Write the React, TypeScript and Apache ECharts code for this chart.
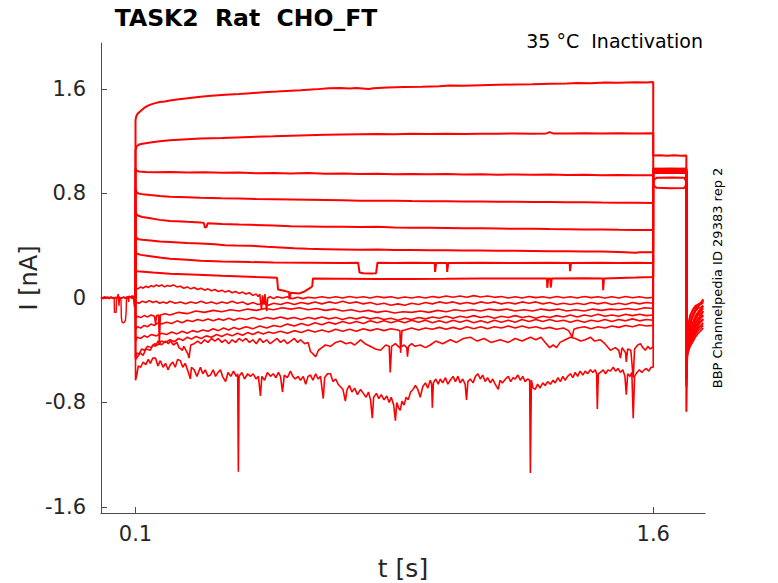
import React, { useEffect, useRef } from "react";
import * as echarts from "echarts";

// ---------- axes ----------
const X_TICKS = [0.1, 1.6];
const Y_TICKS = [-1.6, -0.8, 0, 0.8, 1.6];
const X_MIN = 0;
const X_MAX = 1.75;
const Y_MIN = -1.646;
const Y_MAX = 1.952;

// ---------- texts ----------
const TITLE = "TASK2  Rat  CHO_FT";
const SUBTITLE = "35 °C  Inactivation";
const SIDE_NOTE = "BBP Channelpedia ID 29383 rep 2";
const X_NAME = "t [s]";
const Y_NAME = "I [nA]";

// ---------- holding period (t < 0.1 s) ----------
const PRE_A = [[0,0.01],[0.005,-0.005],[0.01,0.01],[0.015,0.0],[0.02,0.008],[0.025,-0.003],[0.03,0.006],[0.035,0.0],[0.038,0.005],[0.039,-0.11],[0.044,-0.11],[0.045,0.0],[0.05,0.01],[0.055,-0.005],[0.06,0.0],[0.065,0.008],[0.07,-0.004],[0.075,0.005],[0.08,0.0],[0.085,0.01],[0.09,-0.005],[0.095,0.008],[0.1,0.0]];
const PRE_B = [[0,-0.008],[0.006,0.006],[0.012,-0.004],[0.018,0.008],[0.024,-0.006],[0.03,0.004],[0.036,-0.005],[0.042,0.006],[0.048,-0.003],[0.052,0.01],[0.056,0.0],[0.058,-0.02],[0.059,-0.15],[0.061,-0.185],[0.064,-0.19],[0.068,-0.185],[0.071,-0.17],[0.073,-0.1],[0.074,0.01],[0.078,0.0],[0.082,0.015],[0.086,0.005],[0.09,0.018],[0.094,0.008],[0.098,0.02],[0.1,0.012]];
const PRE_C = [[0,0.004],[0.007,-0.006],[0.014,0.007],[0.021,-0.003],[0.028,0.008],[0.035,-0.004],[0.04,0.006],[0.046,-0.005],[0.05,0.03],[0.052,-0.06],[0.054,0.005],[0.06,-0.004],[0.066,0.008],[0.072,-0.003],[0.078,0.012],[0.08,-0.03],[0.082,0.01],[0.088,0.0],[0.093,0.015],[0.097,-0.07],[0.099,0.01],[0.1,0.005]];

// ---------- conditioning pulse (0.1 .. 1.6 s) ----------
const TRACE_01 = [[0.1,0],[0.1,1.36],[0.102,1.39],[0.106,1.41],[0.114,1.43],[0.125,1.455],[0.135,1.47],[0.143,1.48],[0.155,1.49],[0.17,1.5],[0.185,1.505],[0.2,1.512],[0.22,1.52],[0.245,1.528],[0.27,1.535],[0.288,1.54],[0.32,1.548],[0.36,1.556],[0.4,1.562],[0.433,1.568],[0.47,1.575],[0.51,1.58],[0.55,1.586],[0.578,1.59],[0.62,1.597],[0.66,1.605],[0.694,1.608],[0.72,1.604],[0.74,1.608],[0.775,1.6],[0.79,1.606],[0.83,1.612],[0.88,1.615],[0.93,1.617],[0.98,1.62],[1.01,1.626],[1.05,1.624],[1.1,1.628],[1.15,1.632],[1.2,1.634],[1.25,1.636],[1.3,1.64],[1.35,1.642],[1.38,1.646],[1.42,1.644],[1.46,1.65],[1.5,1.648],[1.55,1.652],[1.58,1.65],[1.6,1.654]];
const TRACE_02 = [[0.1,0],[0.1,1.13],[0.103,1.16],[0.11,1.175],[0.12,1.18],[0.143,1.19],[0.17,1.2],[0.2,1.208],[0.25,1.215],[0.288,1.22],[0.35,1.225],[0.433,1.233],[0.5,1.238],[0.55,1.242],[0.6,1.246],[0.65,1.25],[0.7,1.252],[0.75,1.254],[0.8,1.255],[0.85,1.254],[0.9,1.257],[0.95,1.255],[1.0,1.258],[1.05,1.256],[1.1,1.258],[1.15,1.257],[1.2,1.26],[1.25,1.258],[1.29,1.26],[1.3,1.27],[1.31,1.26],[1.35,1.259],[1.4,1.261],[1.45,1.26],[1.5,1.262],[1.55,1.26],[1.6,1.262]];
const TRACE_03 = [[0.1,0],[0.1,0.99],[0.103,0.975],[0.11,0.968],[0.13,0.965],[0.16,0.962],[0.2,0.964],[0.25,0.96],[0.3,0.962],[0.35,0.958],[0.4,0.96],[0.45,0.955],[0.5,0.957],[0.55,0.953],[0.6,0.956],[0.65,0.951],[0.7,0.953],[0.75,0.95],[0.8,0.952],[0.85,0.948],[0.9,0.95],[0.95,0.947],[1.0,0.949],[1.05,0.945],[1.1,0.948],[1.15,0.944],[1.2,0.946],[1.25,0.943],[1.3,0.945],[1.35,0.942],[1.4,0.944],[1.45,0.94],[1.5,0.942],[1.55,0.939],[1.6,0.94]];
const TRACE_04 = [[0.1,0],[0.1,0.84],[0.102,0.815],[0.108,0.8],[0.12,0.795],[0.143,0.788],[0.17,0.78],[0.2,0.775],[0.25,0.772],[0.288,0.768],[0.35,0.764],[0.4,0.762],[0.45,0.758],[0.5,0.756],[0.55,0.754],[0.6,0.752],[0.65,0.75],[0.7,0.748],[0.75,0.745],[0.8,0.744],[0.85,0.745],[0.9,0.742],[0.95,0.741],[1.0,0.74],[1.05,0.739],[1.1,0.738],[1.15,0.737],[1.2,0.736],[1.25,0.735],[1.3,0.734],[1.35,0.733],[1.4,0.733],[1.45,0.731],[1.5,0.73],[1.55,0.729],[1.6,0.727]];
const TRACE_05 = [[0.1,0],[0.1,0.67],[0.102,0.645],[0.108,0.63],[0.12,0.62],[0.143,0.61],[0.17,0.598],[0.2,0.59],[0.25,0.583],[0.288,0.578],[0.298,0.575],[0.301,0.54],[0.306,0.545],[0.309,0.572],[0.35,0.567],[0.4,0.562],[0.433,0.56],[0.5,0.555],[0.55,0.55],[0.6,0.548],[0.65,0.545],[0.7,0.545],[0.75,0.543],[0.8,0.545],[0.85,0.54],[0.9,0.538],[0.95,0.537],[1.0,0.536],[1.05,0.534],[1.1,0.533],[1.15,0.532],[1.2,0.53],[1.25,0.53],[1.3,0.528],[1.35,0.527],[1.4,0.525],[1.45,0.524],[1.5,0.522],[1.55,0.521],[1.6,0.52]];
const TRACE_06 = [[0.1,0],[0.1,0.49],[0.102,0.465],[0.108,0.45],[0.12,0.445],[0.143,0.44],[0.17,0.432],[0.2,0.428],[0.25,0.42],[0.288,0.418],[0.33,0.412],[0.36,0.404],[0.39,0.402],[0.433,0.4],[0.48,0.392],[0.52,0.386],[0.56,0.38],[0.6,0.376],[0.65,0.374],[0.7,0.372],[0.75,0.37],[0.8,0.372],[0.85,0.368],[0.9,0.367],[0.95,0.366],[1.0,0.365],[1.05,0.364],[1.1,0.363],[1.15,0.362],[1.2,0.361],[1.25,0.36],[1.3,0.358],[1.35,0.357],[1.4,0.356],[1.45,0.355],[1.5,0.352],[1.55,0.346],[1.56,0.35],[1.6,0.35]];
const TRACE_07 = [[0.1,0],[0.1,0.36],[0.103,0.34],[0.115,0.33],[0.143,0.32],[0.17,0.31],[0.2,0.3],[0.25,0.292],[0.288,0.285],[0.35,0.28],[0.433,0.275],[0.5,0.272],[0.6,0.27],[0.7,0.268],[0.745,0.27],[0.749,0.195],[0.76,0.19],[0.78,0.188],[0.797,0.19],[0.801,0.27],[0.85,0.268],[0.9,0.27],[0.967,0.268],[0.968,0.2],[0.971,0.268],[1.002,0.268],[1.003,0.2],[1.006,0.268],[1.1,0.27],[1.2,0.268],[1.3,0.27],[1.358,0.268],[1.359,0.205],[1.362,0.268],[1.45,0.27],[1.5,0.268],[1.55,0.27],[1.6,0.268]];
const TRACE_08 = [[0.1,0],[0.1,0.22],[0.104,0.205],[0.15,0.195],[0.2,0.185],[0.28,0.178],[0.35,0.17],[0.45,0.16],[0.51,0.155],[0.513,0.065],[0.53,0.055],[0.545,0.045],[0.546,-0.01],[0.549,0.04],[0.575,0.035],[0.59,0.05],[0.605,0.075],[0.612,0.09],[0.614,0.15],[0.7,0.148],[0.8,0.146],[0.9,0.145],[1.0,0.147],[1.1,0.15],[1.2,0.149],[1.292,0.15],[1.293,0.078],[1.296,0.15],[1.302,0.15],[1.303,0.08],[1.306,0.15],[1.4,0.152],[1.454,0.15],[1.455,0.06],[1.457,0.15],[1.55,0.156],[1.6,0.16]];
const TRACE_09 = [[0.1,0],[0.1,0.08],[0.107,0.07],[0.115,0.085],[0.122,0.075],[0.13,0.09],[0.137,0.08],[0.145,0.095],[0.152,0.085],[0.16,0.1],[0.168,0.09],[0.176,0.1],[0.184,0.085],[0.192,0.095],[0.2,0.09],[0.21,0.1],[0.22,0.085],[0.23,0.09],[0.24,0.075],[0.25,0.085],[0.26,0.07],[0.27,0.08],[0.28,0.065],[0.29,0.075],[0.3,0.06],[0.31,0.07],[0.32,0.055],[0.33,0.065],[0.34,0.05],[0.35,0.06],[0.36,0.045],[0.37,0.055],[0.38,0.04],[0.39,0.05],[0.4,0.035],[0.41,0.045],[0.42,0.03],[0.43,0.04],[0.44,0.02],[0.45,0.03],[0.455,0.01],[0.46,0.03],[0.465,-0.09],[0.468,0.02],[0.472,-0.05],[0.475,0.03],[0.48,-0.1],[0.483,0.0],[0.49,0.01],[0.5,-0.005],[0.51,0.01],[0.525,0.0],[0.54,0.01],[0.555,-0.005],[0.57,0.005],[0.585,-0.005],[0.6,0.005],[0.62,0.0],[0.64,0.01],[0.66,0.0],[0.68,0.01],[0.7,0.0],[0.72,0.012],[0.74,0.002],[0.76,0.01],[0.78,0.0],[0.8,0.012],[0.82,0.003],[0.84,0.01],[0.86,-0.002],[0.88,0.008],[0.9,0.0],[0.92,0.01],[0.94,0.0],[0.96,0.012],[0.98,0.003],[1.0,0.015],[1.02,0.005],[1.04,0.015],[1.06,0.005],[1.08,0.018],[1.1,0.008],[1.12,0.015],[1.14,0.005],[1.16,0.012],[1.18,0.0],[1.2,0.01],[1.22,0.0],[1.24,0.012],[1.26,0.003],[1.28,0.01],[1.3,0.0],[1.32,0.012],[1.34,0.002],[1.36,0.01],[1.38,0.0],[1.4,0.012],[1.42,0.003],[1.44,0.01],[1.46,0.0],[1.48,0.01],[1.5,0.0],[1.52,0.012],[1.54,0.002],[1.56,0.01],[1.58,0.0],[1.6,0.005]];
const TRACE_10 = [[0.1,0],[0.1,-0.03],[0.11,-0.04],[0.12,-0.025],[0.13,-0.035],[0.14,-0.02],[0.15,-0.035],[0.16,-0.025],[0.17,-0.04],[0.18,-0.03],[0.19,-0.04],[0.2,-0.025],[0.215,-0.04],[0.23,-0.03],[0.245,-0.045],[0.26,-0.03],[0.275,-0.04],[0.29,-0.025],[0.305,-0.04],[0.32,-0.03],[0.335,-0.045],[0.35,-0.03],[0.365,-0.04],[0.38,-0.025],[0.395,-0.04],[0.41,-0.03],[0.425,-0.05],[0.44,-0.035],[0.455,-0.05],[0.47,-0.04],[0.485,-0.055],[0.5,-0.04],[0.52,-0.05],[0.54,-0.035],[0.56,-0.05],[0.58,-0.035],[0.6,-0.045],[0.62,-0.03],[0.64,-0.045],[0.66,-0.03],[0.68,-0.04],[0.7,-0.025],[0.72,-0.04],[0.74,-0.03],[0.76,-0.045],[0.78,-0.035],[0.8,-0.05],[0.82,-0.04],[0.84,-0.055],[0.86,-0.045],[0.88,-0.055],[0.9,-0.04],[0.92,-0.05],[0.94,-0.035],[0.96,-0.045],[0.98,-0.03],[1.0,-0.04],[1.02,-0.03],[1.04,-0.045],[1.06,-0.035],[1.08,-0.045],[1.1,-0.03],[1.12,-0.04],[1.14,-0.03],[1.16,-0.045],[1.18,-0.035],[1.2,-0.045],[1.22,-0.03],[1.24,-0.04],[1.26,-0.03],[1.28,-0.045],[1.3,-0.035],[1.32,-0.05],[1.34,-0.04],[1.36,-0.05],[1.38,-0.04],[1.4,-0.05],[1.42,-0.035],[1.44,-0.045],[1.46,-0.035],[1.48,-0.05],[1.5,-0.04],[1.52,-0.05],[1.54,-0.035],[1.56,-0.045],[1.58,-0.035],[1.6,-0.04]];
const TRACE_11 = [[0.1,0],[0.1,-0.16],[0.105,-0.14],[0.115,-0.15],[0.125,-0.135],[0.135,-0.145],[0.145,-0.13],[0.155,-0.14],[0.158,-0.2],[0.161,-0.135],[0.167,-0.13],[0.169,-0.36],[0.172,-0.13],[0.185,-0.12],[0.2,-0.13],[0.225,-0.11],[0.25,-0.12],[0.275,-0.1],[0.3,-0.11],[0.325,-0.095],[0.35,-0.105],[0.375,-0.09],[0.4,-0.1],[0.425,-0.085],[0.45,-0.095],[0.475,-0.08],[0.5,-0.09],[0.525,-0.075],[0.55,-0.085],[0.575,-0.075],[0.6,-0.09],[0.625,-0.08],[0.65,-0.095],[0.675,-0.085],[0.7,-0.1],[0.725,-0.09],[0.75,-0.105],[0.775,-0.095],[0.8,-0.11],[0.825,-0.1],[0.85,-0.115],[0.875,-0.105],[0.9,-0.11],[0.925,-0.1],[0.95,-0.11],[0.975,-0.095],[1.0,-0.105],[1.025,-0.09],[1.05,-0.1],[1.075,-0.09],[1.1,-0.1],[1.125,-0.085],[1.15,-0.095],[1.175,-0.085],[1.2,-0.1],[1.225,-0.09],[1.25,-0.1],[1.275,-0.085],[1.3,-0.095],[1.325,-0.085],[1.35,-0.1],[1.375,-0.09],[1.4,-0.1],[1.425,-0.085],[1.45,-0.095],[1.475,-0.085],[1.5,-0.09],[1.525,-0.08],[1.55,-0.09],[1.575,-0.075],[1.6,-0.08]];
const TRACE_12 = [[0.1,0],[0.1,-0.24],[0.105,-0.22],[0.115,-0.23],[0.125,-0.21],[0.135,-0.22],[0.145,-0.2],[0.155,-0.21],[0.165,-0.19],[0.175,-0.2],[0.19,-0.185],[0.205,-0.195],[0.22,-0.175],[0.235,-0.19],[0.25,-0.17],[0.265,-0.18],[0.28,-0.165],[0.295,-0.175],[0.31,-0.16],[0.325,-0.175],[0.34,-0.16],[0.355,-0.17],[0.37,-0.155],[0.385,-0.17],[0.4,-0.155],[0.42,-0.165],[0.44,-0.15],[0.46,-0.165],[0.48,-0.15],[0.5,-0.16],[0.52,-0.145],[0.54,-0.16],[0.56,-0.15],[0.58,-0.165],[0.6,-0.15],[0.62,-0.16],[0.64,-0.145],[0.66,-0.16],[0.68,-0.15],[0.7,-0.165],[0.72,-0.15],[0.74,-0.16],[0.76,-0.145],[0.78,-0.16],[0.8,-0.15],[0.82,-0.165],[0.84,-0.155],[0.86,-0.17],[0.88,-0.155],[0.9,-0.165],[0.92,-0.15],[0.94,-0.16],[0.96,-0.145],[0.98,-0.155],[1.0,-0.14],[1.02,-0.155],[1.04,-0.14],[1.06,-0.15],[1.08,-0.135],[1.1,-0.15],[1.12,-0.14],[1.14,-0.155],[1.16,-0.14],[1.18,-0.15],[1.2,-0.135],[1.22,-0.15],[1.24,-0.14],[1.26,-0.155],[1.28,-0.14],[1.3,-0.15],[1.32,-0.135],[1.34,-0.145],[1.36,-0.13],[1.38,-0.145],[1.4,-0.13],[1.42,-0.14],[1.44,-0.125],[1.46,-0.14],[1.48,-0.13],[1.5,-0.14],[1.52,-0.125],[1.54,-0.135],[1.56,-0.125],[1.58,-0.135],[1.6,-0.13]];
const TRACE_13 = [[0.1,0],[0.1,-0.33],[0.105,-0.3],[0.115,-0.31],[0.125,-0.29],[0.135,-0.3],[0.145,-0.28],[0.16,-0.29],[0.175,-0.27],[0.19,-0.28],[0.205,-0.26],[0.22,-0.275],[0.235,-0.255],[0.25,-0.27],[0.265,-0.25],[0.28,-0.26],[0.295,-0.245],[0.31,-0.255],[0.325,-0.235],[0.34,-0.25],[0.355,-0.23],[0.37,-0.245],[0.385,-0.225],[0.4,-0.24],[0.42,-0.22],[0.44,-0.235],[0.46,-0.215],[0.48,-0.23],[0.5,-0.21],[0.52,-0.22],[0.54,-0.2],[0.56,-0.215],[0.58,-0.195],[0.6,-0.21],[0.62,-0.19],[0.64,-0.205],[0.66,-0.185],[0.68,-0.2],[0.7,-0.18],[0.72,-0.195],[0.74,-0.18],[0.76,-0.195],[0.78,-0.175],[0.8,-0.19],[0.82,-0.175],[0.84,-0.19],[0.86,-0.175],[0.88,-0.19],[0.9,-0.17],[0.92,-0.185],[0.94,-0.17],[0.96,-0.19],[0.98,-0.175],[1.0,-0.19],[1.02,-0.17],[1.04,-0.185],[1.06,-0.17],[1.08,-0.19],[1.1,-0.175],[1.12,-0.19],[1.14,-0.17],[1.16,-0.185],[1.18,-0.17],[1.2,-0.185],[1.22,-0.165],[1.24,-0.18],[1.26,-0.165],[1.28,-0.18],[1.3,-0.165],[1.32,-0.18],[1.34,-0.17],[1.36,-0.185],[1.38,-0.17],[1.4,-0.185],[1.42,-0.17],[1.44,-0.18],[1.46,-0.165],[1.48,-0.18],[1.5,-0.165],[1.52,-0.175],[1.54,-0.16],[1.56,-0.175],[1.58,-0.165],[1.6,-0.17]];
const TRACE_14 = [[0.1,0],[0.1,-0.46],[0.104,-0.42],[0.11,-0.43],[0.118,-0.39],[0.126,-0.4],[0.135,-0.37],[0.145,-0.38],[0.155,-0.35],[0.165,-0.36],[0.175,-0.33],[0.187,-0.34],[0.2,-0.32],[0.212,-0.335],[0.225,-0.31],[0.238,-0.325],[0.25,-0.3],[0.262,-0.315],[0.275,-0.295],[0.29,-0.31],[0.305,-0.29],[0.32,-0.3],[0.335,-0.28],[0.35,-0.295],[0.365,-0.275],[0.38,-0.29],[0.395,-0.27],[0.41,-0.285],[0.425,-0.265],[0.44,-0.28],[0.455,-0.26],[0.47,-0.275],[0.485,-0.26],[0.5,-0.27],[0.52,-0.255],[0.54,-0.27],[0.56,-0.25],[0.58,-0.265],[0.6,-0.245],[0.62,-0.26],[0.64,-0.245],[0.66,-0.26],[0.68,-0.24],[0.7,-0.255],[0.72,-0.24],[0.74,-0.255],[0.76,-0.235],[0.78,-0.25],[0.8,-0.235],[0.82,-0.25],[0.84,-0.235],[0.86,-0.245],[0.866,-0.25],[0.868,-0.42],[0.872,-0.25],[0.88,-0.245],[0.9,-0.23],[0.92,-0.245],[0.94,-0.23],[0.96,-0.24],[0.98,-0.225],[1.0,-0.24],[1.02,-0.225],[1.04,-0.24],[1.06,-0.22],[1.08,-0.235],[1.1,-0.22],[1.12,-0.235],[1.14,-0.22],[1.16,-0.23],[1.18,-0.215],[1.2,-0.23],[1.22,-0.215],[1.24,-0.23],[1.26,-0.22],[1.28,-0.235],[1.3,-0.225],[1.32,-0.24],[1.34,-0.23],[1.355,-0.25],[1.365,-0.3],[1.37,-0.24],[1.38,-0.23],[1.4,-0.22],[1.42,-0.235],[1.44,-0.22],[1.46,-0.23],[1.48,-0.215],[1.5,-0.225],[1.52,-0.21],[1.54,-0.22],[1.56,-0.205],[1.58,-0.215],[1.6,-0.21]];
const TRACE_15 = [[0.1,0],[0.1,-0.47],[0.106,-0.45],[0.114,-0.42],[0.122,-0.44],[0.13,-0.39],[0.143,-0.4],[0.15,-0.36],[0.158,-0.37],[0.165,-0.33],[0.175,-0.36],[0.187,-0.33],[0.195,-0.35],[0.201,-0.33],[0.21,-0.36],[0.22,-0.34],[0.226,-0.38],[0.236,-0.4],[0.24,-0.37],[0.252,-0.43],[0.255,-0.46],[0.26,-0.36],[0.27,-0.35],[0.28,-0.33],[0.29,-0.35],[0.3,-0.32],[0.31,-0.34],[0.32,-0.31],[0.33,-0.33],[0.34,-0.31],[0.35,-0.34],[0.36,-0.32],[0.37,-0.35],[0.38,-0.32],[0.39,-0.34],[0.4,-0.31],[0.41,-0.33],[0.42,-0.31],[0.43,-0.34],[0.44,-0.32],[0.45,-0.35],[0.46,-0.31],[0.47,-0.34],[0.48,-0.32],[0.49,-0.35],[0.5,-0.33],[0.51,-0.31],[0.52,-0.34],[0.53,-0.32],[0.54,-0.35],[0.55,-0.33],[0.56,-0.31],[0.57,-0.34],[0.578,-0.32],[0.59,-0.35],[0.6,-0.34],[0.607,-0.41],[0.615,-0.43],[0.622,-0.45],[0.63,-0.4],[0.64,-0.38],[0.65,-0.36],[0.665,-0.37],[0.68,-0.34],[0.694,-0.33],[0.71,-0.35],[0.723,-0.34],[0.735,-0.36],[0.752,-0.32],[0.765,-0.35],[0.78,-0.37],[0.795,-0.39],[0.81,-0.4],[0.825,-0.36],[0.835,-0.37],[0.838,-0.57],[0.842,-0.37],[0.853,-0.35],[0.865,-0.38],[0.878,-0.36],[0.886,-0.38],[0.888,-0.45],[0.891,-0.37],[0.9,-0.35],[0.91,-0.37],[0.925,-0.36],[0.94,-0.38],[0.954,-0.36],[0.97,-0.33],[0.99,-0.35],[1.012,-0.32],[1.03,-0.34],[1.05,-0.31],[1.07,-0.3],[1.09,-0.33],[1.11,-0.31],[1.13,-0.34],[1.157,-0.32],[1.18,-0.34],[1.2,-0.31],[1.22,-0.33],[1.244,-0.3],[1.26,-0.32],[1.275,-0.3],[1.287,-0.34],[1.3,-0.38],[1.31,-0.36],[1.32,-0.38],[1.33,-0.34],[1.345,-0.32],[1.36,-0.3],[1.374,-0.31],[1.39,-0.33],[1.403,-0.32],[1.418,-0.3],[1.43,-0.33],[1.447,-0.32],[1.46,-0.35],[1.476,-0.4],[1.49,-0.38],[1.5,-0.4],[1.505,-0.46],[1.51,-0.38],[1.52,-0.42],[1.522,-0.49],[1.526,-0.39],[1.535,-0.4],[1.542,-0.61],[1.546,-0.39],[1.555,-0.36],[1.563,-0.35],[1.57,-0.38],[1.577,-0.4],[1.585,-0.37],[1.59,-0.39],[1.6,-0.375]];
const TRACE_16 = [[0.1,0],[0.1,-0.63],[0.103,-0.6],[0.108,-0.52],[0.115,-0.53],[0.122,-0.49],[0.13,-0.51],[0.137,-0.47],[0.143,-0.5],[0.15,-0.46],[0.158,-0.46],[0.165,-0.52],[0.172,-0.48],[0.18,-0.53],[0.187,-0.5],[0.194,-0.55],[0.201,-0.51],[0.208,-0.49],[0.215,-0.53],[0.222,-0.47],[0.23,-0.48],[0.237,-0.53],[0.244,-0.5],[0.252,-0.56],[0.259,-0.62],[0.262,-0.53],[0.27,-0.55],[0.278,-0.6],[0.288,-0.53],[0.295,-0.58],[0.302,-0.55],[0.31,-0.6],[0.317,-0.59],[0.325,-0.55],[0.332,-0.6],[0.339,-0.57],[0.346,-0.55],[0.352,-0.6],[0.361,-0.64],[0.368,-0.57],[0.376,-0.6],[0.384,-0.56],[0.392,-0.6],[0.396,-0.58],[0.398,-1.33],[0.4,-0.6],[0.408,-0.57],[0.416,-0.62],[0.425,-0.58],[0.433,-0.6],[0.441,-0.58],[0.449,-0.62],[0.456,-0.6],[0.462,-0.75],[0.466,-0.6],[0.474,-0.63],[0.482,-0.57],[0.491,-0.6],[0.499,-0.58],[0.507,-0.61],[0.514,-0.57],[0.52,-0.6],[0.526,-0.72],[0.531,-0.59],[0.54,-0.61],[0.549,-0.56],[0.556,-0.6],[0.563,-0.62],[0.571,-0.6],[0.578,-0.63],[0.586,-0.6],[0.593,-0.66],[0.6,-0.6],[0.607,-0.59],[0.614,-0.63],[0.622,-0.58],[0.629,-0.62],[0.636,-0.6],[0.644,-0.77],[0.648,-0.61],[0.656,-0.58],[0.665,-0.58],[0.672,-0.64],[0.68,-0.62],[0.687,-0.66],[0.694,-0.68],[0.701,-0.7],[0.708,-0.79],[0.713,-0.7],[0.72,-0.67],[0.727,-0.72],[0.735,-0.69],[0.743,-0.74],[0.752,-0.7],[0.76,-0.73],[0.768,-0.76],[0.775,-0.72],[0.781,-0.78],[0.786,-0.92],[0.79,-0.76],[0.798,-0.73],[0.805,-0.77],[0.812,-0.74],[0.82,-0.78],[0.828,-0.75],[0.835,-0.8],[0.841,-0.76],[0.848,-0.82],[0.853,-0.94],[0.857,-0.8],[0.862,-0.84],[0.867,-0.86],[0.872,-0.79],[0.878,-0.82],[0.884,-0.76],[0.89,-0.78],[0.897,-0.72],[0.904,-0.7],[0.911,-0.67],[0.918,-0.7],[0.925,-0.76],[0.932,-0.68],[0.94,-0.65],[0.947,-0.69],[0.954,-0.63],[0.958,-0.66],[0.96,-0.84],[0.963,-0.65],[0.97,-0.62],[0.977,-0.66],[0.983,-0.62],[0.99,-0.65],[0.998,-0.61],[1.005,-0.66],[1.012,-0.63],[1.02,-0.6],[1.027,-0.64],[1.034,-0.6],[1.041,-0.65],[1.048,-0.62],[1.055,-0.66],[1.059,-0.78],[1.063,-0.64],[1.07,-0.62],[1.078,-0.65],[1.085,-0.6],[1.092,-0.58],[1.099,-0.62],[1.106,-0.59],[1.113,-0.64],[1.12,-0.61],[1.128,-0.65],[1.135,-0.62],[1.142,-0.66],[1.151,-0.7],[1.156,-0.63],[1.163,-0.65],[1.172,-0.62],[1.18,-0.6],[1.187,-0.64],[1.194,-0.61],[1.2,-0.62],[1.208,-0.59],[1.215,-0.63],[1.222,-0.6],[1.229,-0.64],[1.236,-0.62],[1.242,-0.63],[1.244,-1.34],[1.247,-0.63],[1.252,-0.69],[1.258,-0.7],[1.265,-0.66],[1.272,-0.69],[1.28,-0.65],[1.287,-0.67],[1.294,-0.64],[1.302,-0.66],[1.31,-0.63],[1.316,-0.65],[1.324,-0.61],[1.331,-0.64],[1.338,-0.6],[1.345,-0.63],[1.352,-0.6],[1.36,-0.58],[1.367,-0.61],[1.374,-0.57],[1.381,-0.6],[1.388,-0.56],[1.396,-0.59],[1.403,-0.56],[1.41,-0.58],[1.418,-0.55],[1.425,-0.57],[1.432,-0.55],[1.436,-0.58],[1.438,-0.85],[1.441,-0.58],[1.447,-0.57],[1.455,-0.55],[1.462,-0.58],[1.469,-0.55],[1.476,-0.56],[1.484,-0.53],[1.491,-0.56],[1.498,-0.54],[1.505,-0.57],[1.512,-0.55],[1.518,-0.6],[1.522,-0.74],[1.526,-0.58],[1.533,-0.6],[1.538,-0.57],[1.542,-0.92],[1.546,-0.6],[1.553,-0.57],[1.56,-0.55],[1.567,-0.57],[1.574,-0.55],[1.58,-0.54],[1.587,-0.56],[1.594,-0.53],[1.6,-0.53]];

// ---------- test pulse (1.6 .. 1.696 s) and tail ----------
const POST_01 = [[1.6,1.09],[1.62,1.092],[1.64,1.088],[1.66,1.093],[1.68,1.089],[1.696,1.09],[1.696,-0.87],[1.698,-0.5],[1.7,-0.33],[1.704,-0.22],[1.71,-0.16],[1.716,-0.12],[1.724,-0.08],[1.732,-0.05],[1.74,-0.03],[1.745,-0.01]];
const POST_02 = [[1.6,0.88],[1.604,0.91],[1.61,0.92],[1.65,0.922],[1.69,0.92],[1.694,0.9],[1.696,0.88],[1.696,-0.68],[1.698,-0.42],[1.701,-0.3],[1.706,-0.22],[1.713,-0.15],[1.722,-0.1],[1.732,-0.06],[1.74,-0.04],[1.745,-0.02]];
const POST_03 = [[1.6,0.88],[1.604,0.855],[1.61,0.843],[1.65,0.84],[1.69,0.842],[1.694,0.86],[1.696,0.88],[1.696,-0.62],[1.698,-0.4],[1.701,-0.32],[1.706,-0.25],[1.713,-0.2],[1.722,-0.14],[1.732,-0.1],[1.74,-0.08],[1.745,-0.06]];
const POST_04 = [[1.6,0.99],[1.65,0.985],[1.696,0.99],[1.696,-0.6],[1.698,-0.38],[1.702,-0.3],[1.707,-0.26],[1.714,-0.2],[1.722,-0.17],[1.73,-0.12],[1.738,-0.1],[1.745,-0.08]];
const POST_05 = [[1.6,0.975],[1.65,0.97],[1.696,0.975],[1.696,-0.55],[1.698,-0.36],[1.702,-0.33],[1.707,-0.28],[1.714,-0.24],[1.722,-0.2],[1.73,-0.16],[1.738,-0.13],[1.745,-0.1]];
const POST_06 = [[1.6,0.985],[1.65,0.98],[1.696,0.985],[1.696,-0.5],[1.698,-0.4],[1.702,-0.35],[1.707,-0.3],[1.714,-0.27],[1.722,-0.22],[1.73,-0.19],[1.738,-0.15],[1.745,-0.13]];
const POST_07 = [[1.6,0.965],[1.65,0.962],[1.696,0.965],[1.696,-0.62],[1.698,-0.45],[1.702,-0.38],[1.707,-0.33],[1.714,-0.29],[1.722,-0.25],[1.73,-0.21],[1.738,-0.18],[1.745,-0.16]];
const POST_08 = [[1.6,0.97],[1.65,0.973],[1.696,0.97],[1.696,-0.58],[1.698,-0.42],[1.702,-0.37],[1.707,-0.34],[1.714,-0.3],[1.722,-0.27],[1.73,-0.23],[1.738,-0.21],[1.745,-0.19]];
const POST_09 = [[1.6,0.98],[1.65,0.978],[1.696,0.98],[1.696,-0.52],[1.698,-0.44],[1.702,-0.4],[1.707,-0.36],[1.714,-0.32],[1.722,-0.28],[1.73,-0.25],[1.738,-0.23],[1.745,-0.21]];
const POST_10 = [[1.6,0.96],[1.65,0.958],[1.696,0.96],[1.696,-0.48],[1.698,-0.43],[1.702,-0.41],[1.707,-0.37],[1.714,-0.34],[1.722,-0.3],[1.73,-0.27],[1.738,-0.25],[1.745,-0.23]];
const POST_11 = [[1.6,0.99],[1.65,0.992],[1.696,0.99],[1.696,-0.45],[1.698,-0.28],[1.702,-0.2],[1.707,-0.14],[1.714,-0.1],[1.722,-0.07],[1.73,-0.05],[1.738,-0.04],[1.745,-0.03]];
const POST_12 = [[1.6,0.975],[1.65,0.972],[1.696,0.975],[1.696,-0.66],[1.698,-0.4],[1.702,-0.27],[1.707,-0.19],[1.714,-0.14],[1.722,-0.1],[1.73,-0.08],[1.738,-0.07],[1.745,-0.06]];
const POST_13 = [[1.6,0.965],[1.65,0.968],[1.696,0.965],[1.696,-0.56],[1.698,-0.42],[1.702,-0.32],[1.707,-0.25],[1.714,-0.2],[1.722,-0.16],[1.73,-0.13],[1.738,-0.12],[1.745,-0.11]];
const POST_14 = [[1.6,0.98],[1.65,0.983],[1.696,0.98],[1.696,-0.5],[1.698,-0.38],[1.702,-0.31],[1.707,-0.27],[1.714,-0.22],[1.722,-0.19],[1.73,-0.16],[1.738,-0.15],[1.745,-0.14]];
const POST_15 = [[1.6,0.97],[1.65,0.968],[1.696,0.97],[1.696,-0.6],[1.698,-0.45],[1.702,-0.37],[1.707,-0.3],[1.714,-0.26],[1.722,-0.22],[1.73,-0.19],[1.738,-0.18],[1.745,-0.17]];
const POST_16 = [[1.6,0.955],[1.65,0.958],[1.696,0.955],[1.696,-0.54],[1.698,-0.3],[1.702,-0.2],[1.707,-0.13],[1.714,-0.09],[1.722,-0.06],[1.73,-0.05],[1.738,-0.045],[1.745,-0.04]];

const SMOOTH_TRACES = [TRACE_01, TRACE_02, TRACE_03, TRACE_04, TRACE_05, TRACE_06, TRACE_07, TRACE_08];
const NOISY_TRACES = [TRACE_09, TRACE_10, TRACE_11, TRACE_12, TRACE_13, TRACE_14, TRACE_15, TRACE_16];
const SMOOTH_POSTS = [POST_01, POST_02, POST_03, POST_04, POST_05, POST_06, POST_07, POST_08];
const NOISY_POSTS = [POST_09, POST_10, POST_11, POST_12, POST_13, POST_14, POST_15, POST_16];
const PRES = [PRE_A, PRE_B, PRE_C];

const RED = "#ff0000";
const AXIS_COLOR = "#4d4d4d";
const LABEL_COLOR = "#262626";
const FONT = "DejaVu Sans";

function lineSeries(data: number[][], width: number) {
  return {
    type: "line",
    data,
    symbol: "none",
    showSymbol: false,
    silent: true,
    animation: false,
    lineStyle: { color: RED, width },
    emphasis: { disabled: true },
  };
}

function fmt(v: number) {
  return String(Math.round(v * 10) / 10);
}

export default function App() {
  const ref = useRef<HTMLDivElement>(null);
  useEffect(() => {
    document.body.style.margin = "0";
    const chart = echarts.init(ref.current!, null, { renderer: "svg" });
    const series: any[] = [];
    PRES.forEach((p) => series.push(lineSeries(p, 1.4)));
    SMOOTH_TRACES.forEach((t, i) => series.push(lineSeries([...t, ...SMOOTH_POSTS[i]], 2)));
    NOISY_TRACES.forEach((t, i) => series.push(lineSeries([...t, ...NOISY_POSTS[i]], 1.6)));

    chart.setOption({
      animation: false,
      backgroundColor: "#ffffff",
      grid: { left: 101, right: 73, top: 43, bottom: 70, containLabel: false },
      xAxis: {
        type: "value",
        min: X_MIN,
        max: X_MAX,
        axisLine: { show: true, onZero: false, lineStyle: { color: AXIS_COLOR, width: 1 } },
        axisTick: { show: true, inside: true, length: 6, customValues: X_TICKS, lineStyle: { color: AXIS_COLOR } },
        axisLabel: { customValues: X_TICKS, formatter: fmt, color: LABEL_COLOR, fontSize: 21, fontFamily: FONT, margin: 10 },
        splitLine: { show: false },
      },
      yAxis: {
        type: "value",
        min: Y_MIN,
        max: Y_MAX,
        axisLine: { show: true, onZero: false, lineStyle: { color: AXIS_COLOR, width: 1 } },
        axisTick: { show: true, inside: true, length: 6, customValues: Y_TICKS, lineStyle: { color: AXIS_COLOR } },
        axisLabel: { customValues: Y_TICKS, formatter: fmt, color: LABEL_COLOR, fontSize: 21, fontFamily: FONT, margin: 15 },
        splitLine: { show: false },
      },
      graphic: [
        { type: "text", x: 246, y: 18, style: { text: TITLE, fill: "#000", fontSize: 23.5, fontWeight: "bold", fontFamily: FONT, align: "center", verticalAlign: "middle" } },
        { type: "text", x: 703, y: 41, style: { text: SUBTITLE, fill: "#000", fontSize: 19, fontFamily: FONT, align: "right", verticalAlign: "middle" } },
        { type: "text", x: 717, y: 278, rotation: Math.PI / 2, style: { text: SIDE_NOTE, fill: "#000", fontSize: 13, fontFamily: FONT, align: "center", verticalAlign: "middle" } },
        { type: "text", x: 29, y: 278, rotation: Math.PI / 2, style: { text: Y_NAME, fill: LABEL_COLOR, fontSize: 24, fontFamily: FONT, align: "center", verticalAlign: "middle" } },
        { type: "text", x: 403, y: 568, style: { text: X_NAME, fill: LABEL_COLOR, fontSize: 25, fontFamily: FONT, align: "center", verticalAlign: "middle" } },
      ],
      series,
    });
    return () => chart.dispose();
  }, []);
  return <div ref={ref} style={{ width: 778, height: 583 }} />;
}
